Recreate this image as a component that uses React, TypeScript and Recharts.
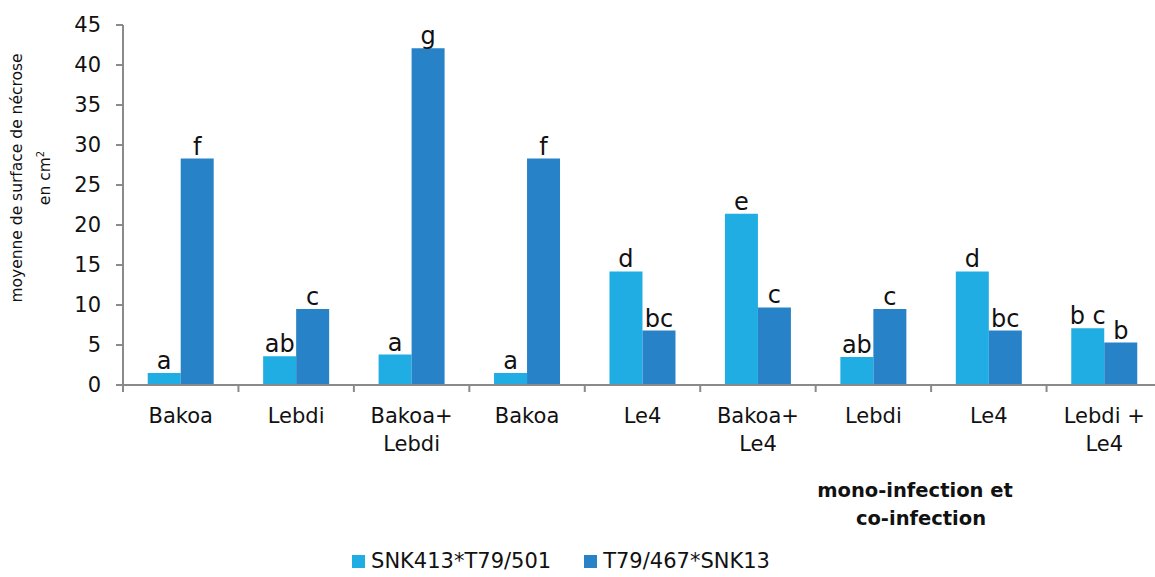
import React from "react";
import { BarChart, Bar, XAxis, YAxis, LabelList } from "recharts";

const categories = [
  "Bakoa",
  "Lebdi",
  "Bakoa+\nLebdi",
  "Bakoa",
  "Le4",
  "Bakoa+\nLe4",
  "Lebdi",
  "Le4",
  "Lebdi +\nLe4",
];
const snkValues = [1.5, 3.6, 3.8, 1.5, 14.2, 21.4, 3.5, 14.2, 7.1];
const t79Values = [28.3, 9.5, 42.1, 28.3, 6.8, 9.7, 9.5, 6.8, 5.3];
const snkLetters = ["a", "ab", "a", "a", "d", "e", "ab", "d", "b c"];
const t79Letters = ["f", "c", "g", "f", "bc", "c", "c", "bc", "b"];
const yTicks = [0, 5, 10, 15, 20, 25, 30, 35, 40, 45];

const LIGHT = "#1fade3";
const DARK = "#2882c7";
const AXIS = "#8a8a8a";
const FONT = "'DejaVu Sans', sans-serif";

const W = 1170;
const H = 577;
const LEFT = 123;
const RIGHT = 8;
const PLOT_BOTTOM = 385;
const BAND = (W - LEFT - RIGHT) / categories.length;

const data = categories.map((name, i) => ({
  name,
  snk: snkValues[i],
  t79: t79Values[i],
  la: snkLetters[i],
  lb: t79Letters[i],
}));

const CatTick = (props: any) => {
  const { x, payload } = props;
  const lines = String(payload.value).split("\n");
  const bx = x - BAND / 2;
  return (
    <g>
      <line x1={bx} x2={bx} y1={PLOT_BOTTOM} y2={PLOT_BOTTOM + 7} stroke={AXIS} strokeWidth={2} />
      {lines.map((l, i) => (
        <text
          key={i}
          x={x}
          y={423 + i * 28}
          textAnchor="middle"
          fontSize={21}
          fontFamily={FONT}
          fill="#111"
        >
          {l}
        </text>
      ))}
    </g>
  );
};

export default function App() {
  return (
    <div
      style={{
        position: "absolute",
        left: 0,
        top: 0,
        width: 1155,
        height: 577,
        overflow: "hidden",
        background: "#fff",
        fontFamily: FONT,
      }}
    >
      <BarChart
        width={W}
        height={H}
        data={data}
        margin={{ top: 25, right: RIGHT, left: 0, bottom: 0 }}
        barCategoryGap="21.4%"
        barGap={0}
      >
        <XAxis
          dataKey="name"
          height={H - PLOT_BOTTOM}
          interval={0}
          tickLine={false}
          axisLine={{ stroke: AXIS, strokeWidth: 2 }}
          tick={<CatTick />}
        />
        <YAxis
          width={LEFT}
          domain={[0, 45]}
          ticks={yTicks}
          interval={0}
          tickSize={7}
          tickMargin={15}
          axisLine={{ stroke: AXIS, strokeWidth: 2 }}
          tickLine={{ stroke: AXIS, strokeWidth: 2 }}
          tick={{ fontSize: 21, fill: "#111", fontFamily: FONT }}
        />
        <Bar dataKey="snk" fill={LIGHT} isAnimationActive={false}>
          <LabelList dataKey="la" position="top" offset={4} fill="#111" fontSize={24} fontFamily={FONT} />
        </Bar>
        <Bar dataKey="t79" fill={DARK} isAnimationActive={false}>
          <LabelList dataKey="lb" position="top" offset={4} fill="#111" fontSize={24} fontFamily={FONT} />
        </Bar>
      </BarChart>

      <svg
        width={1155}
        height={577}
        style={{ position: "absolute", left: 0, top: 0, pointerEvents: "none" }}
      >
        <text
          transform="translate(22,178) rotate(-90)"
          textAnchor="middle"
          fontSize={15.5}
          fontFamily={FONT}
          fill="#111"
        >
          moyenne de surface de nécrose
        </text>
        <text
          transform="translate(50,178) rotate(-90)"
          textAnchor="middle"
          fontSize={15.5}
          fontFamily={FONT}
          fill="#111"
        >
          en cm<tspan dy={-6} fontSize={10}>2</tspan>
        </text>
        <text x={915} y={497} textAnchor="middle" fontSize={19.5} fontWeight="bold" fontFamily={FONT} fill="#111">
          mono-infection et
        </text>
        <text x={921} y={525} textAnchor="middle" fontSize={19.5} fontWeight="bold" fontFamily={FONT} fill="#111">
          co-infection
        </text>
      </svg>

      <div
        style={{
          position: "absolute",
          left: 0,
          top: 549,
          width: 1122,
          display: "flex",
          justifyContent: "center",
          alignItems: "center",
          fontSize: 21,
          color: "#111",
        }}
      >
        <span style={{ width: 13, height: 13, background: LIGHT, marginRight: 6 }} />
        <span style={{ marginRight: 33 }}>SNK413*T79/501</span>
        <span style={{ width: 13, height: 13, background: DARK, marginRight: 6 }} />
        <span>T79/467*SNK13</span>
      </div>
    </div>
  );
}
